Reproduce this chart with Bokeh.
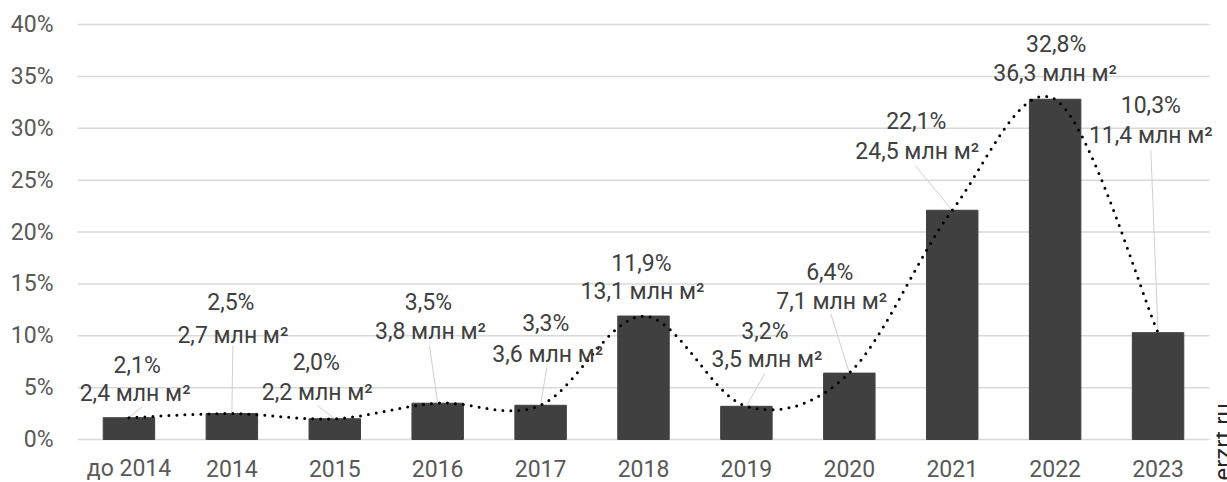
import numpy as np
from bokeh.plotting import figure
from bokeh.layouts import row
from bokeh.models import Range1d, FixedTicker, ColumnDataSource
from bokeh.core.properties import value
from bokeh.embed import file_html
from bokeh.resources import INLINE

# ---- data ----
categories = ["до 2014", "2014", "2015", "2016", "2017", "2018",
              "2019", "2020", "2021", "2022", "2023"]
share_pct = [2.1, 2.5, 2.0, 3.5, 3.3, 11.9, 3.2, 6.4, 22.1, 32.8, 10.3]
area_mln = [2.4, 2.7, 2.2, 3.8, 3.6, 13.1, 3.5, 7.1, 24.5, 36.3, 11.4]
y_ticks = [0, 5, 10, 15, 20, 25, 30, 35, 40]
watermark = "erzrf.ru"

# ---- label layout (offsets in category units, heights in axis units) ----
pct_dx = [0.08, -0.01, -0.18, -0.09, 0.05, -0.02, 0.18, -0.19, -0.35, 0.01, -0.07]
pct_y = [7.13, 13.2, 7.42, 13.2, 11.18, 16.96, 10.41, 16.1, 30.65, 38.07, 32.19]
area_dx = [0.06, 0.01, -0.17, -0.07, 0.07, -0.01, 0.2, -0.17, -0.34, 0.0, -0.07]
area_y = [4.43, 10.02, 4.53, 10.41, 8.19, 14.27, 7.71, 13.3, 27.76, 35.28, 29.3]
leader_dx = [0.13, 0.01, -0.17, -0.08, 0.06, None, 0.18, -0.18, -0.36, None, -0.07]
leader_y = [3.18, 9.06, 3.28, 9.06, 6.94, None, 6.36, 12.14, 26.41, None, 27.86]
cat_label_y = -2.84   # centre line of category names, below the 0 line

FONT = value("Roboto")
xs = list(range(len(categories)))

p = figure(width=1216, height=482, x_range=Range1d(-0.5, 10.568),
           y_range=Range1d(-4.145, 40.2), output_backend="svg",
           toolbar_location=None, x_axis_location=None,
           min_border_left=77, min_border_right=0,
           min_border_top=22, min_border_bottom=0)
p.outline_line_color = None
p.background_fill_color = "white"
p.border_fill_color = "white"
p.grid.visible = False

# horizontal gridlines across the category span
p.segment(x0=[-0.5] * len(y_ticks), x1=[10.5] * len(y_ticks), y0=y_ticks, y1=y_ticks,
          line_color="#d9d9d9", line_width=1.5, level="underlay")

# y axis
p.yaxis.ticker = FixedTicker(ticks=y_ticks)
p.yaxis.major_label_overrides = {t: f"{t}%" for t in y_ticks}
p.yaxis.axis_line_color = None
p.yaxis.major_tick_line_color = None
p.yaxis.minor_tick_line_color = None
p.yaxis.major_tick_out = 0
p.yaxis.major_tick_in = 0
p.yaxis.minor_tick_out = 0
p.yaxis.major_label_text_font = "Roboto"
p.yaxis.major_label_text_font_size = "23px"
p.yaxis.major_label_text_color = "#595959"
p.yaxis.major_label_standoff = 24

# category names
p.text(x=xs, y=[cat_label_y] * len(xs), text=categories, text_font=FONT,
       text_font_size="23px", text_color="#595959",
       text_align="center", text_baseline="middle")

# bars
p.vbar(x=xs, top=share_pct, bottom=0, width=0.5, color="#404040")

# leader lines
lx0, ly0, lx1, ly1 = [], [], [], []
for i in xs:
    if leader_dx[i] is None:
        continue
    lx0.append(i + leader_dx[i]); ly0.append(leader_y[i])
    lx1.append(i); ly1.append(share_pct[i])
p.segment(x0=lx0, y0=ly0, x1=lx1, y1=ly1, line_color="#d0d0d0", line_width=1)

# smoothed trend line (Bezier smoothing through the data points)
pts = list(zip(xs, share_pct))
sx, sy = [], []
n = len(pts)
for i in range(n - 1):
    p0 = np.array(pts[i - 1] if i > 0 else pts[i], dtype=float)
    p1 = np.array(pts[i], dtype=float)
    p2 = np.array(pts[i + 1], dtype=float)
    p3 = np.array(pts[i + 2] if i + 2 < n else pts[i + 1], dtype=float)
    c1 = p1 + (p2 - p0) / 6.0
    c2 = p2 - (p3 - p1) / 6.0
    ts = np.linspace(0, 1, 30, endpoint=(i == n - 2))
    for t in ts:
        b = ((1 - t) ** 3) * p1 + 3 * ((1 - t) ** 2) * t * c1 + 3 * (1 - t) * t * t * c2 + t ** 3 * p2
        sx.append(b[0]); sy.append(b[1])
p.line(sx, sy, line_color="black", line_width=3, line_dash="0 8", line_cap="round")

# data labels
pct_txt = [f"{v:.1f}".replace(".", ",") + "%" for v in share_pct]
area_txt = [f"{v:.1f}".replace(".", ",") + " млн м²" for v in area_mln]
src = ColumnDataSource(dict(
    px=[i + d for i, d in zip(xs, pct_dx)], py=pct_y, pt=pct_txt,
    ax=[i + d for i, d in zip(xs, area_dx)], ay=area_y, at=area_txt))
p.text(x="px", y="py", text="pt", source=src, text_font=FONT,
       text_font_size="23px", text_color="#404040",
       text_align="center", text_baseline="middle")
p.text(x="ax", y="ay", text="at", source=src, text_font=FONT,
       text_font_size="23px", text_color="#404040",
       text_align="center", text_baseline="middle")

# narrow strip on the right for the vertical watermark
w = figure(width=11, height=482, x_range=Range1d(0, 11), y_range=Range1d(0, 460),
           output_backend="svg", toolbar_location=None,
           x_axis_location=None, y_axis_location=None,
           min_border_left=0, min_border_right=0, min_border_top=22, min_border_bottom=0)
w.outline_line_color = None
w.grid.visible = False
w.background_fill_color = "white"
w.border_fill_color = "white"
w.text(x=[6.3], y=[2], text=[watermark], angle=np.pi / 2, text_font=FONT,
       text_font_size="24px", text_color="#262626",
       text_align="left", text_baseline="middle")

layout = row(p, w, spacing=0)
open("out.html", "w").write(file_html(layout, INLINE))
